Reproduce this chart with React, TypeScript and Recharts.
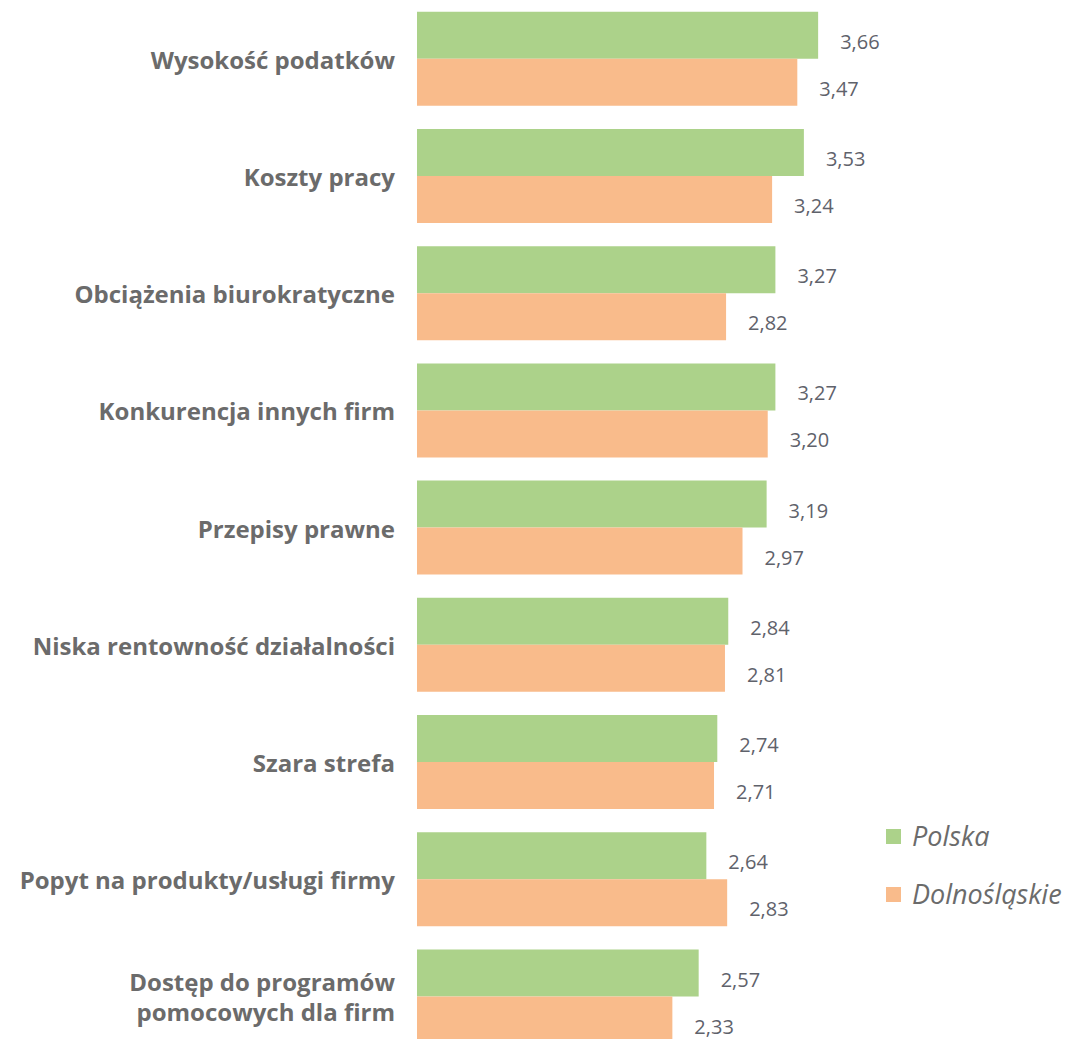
import React from 'react';
import { Bar, BarChart, LabelList, XAxis, YAxis } from 'recharts';

const categories = [
  'Wysokość podatków',
  'Koszty pracy',
  'Obciążenia biurokratyczne',
  'Konkurencja innych firm',
  'Przepisy prawne',
  'Niska rentowność działalności',
  'Szara strefa',
  'Popyt na produkty/usługi firmy',
  'Dostęp do programów\npomocowych dla firm',
];
const polska = [3.66, 3.53, 3.27, 3.27, 3.19, 2.84, 2.74, 2.64, 2.57];
const dolnoslaskie = [3.47, 3.24, 2.82, 3.2, 2.97, 2.81, 2.71, 2.83, 2.33];

const GREEN = '#acd28a';
const ORANGE = '#f9bb8b';
const TEXT = '#6b6b6b';
const FONT = '"Open Sans", sans-serif';

const data = categories.map((name, i) => ({
  name,
  polska: polska[i],
  dolnoslaskie: dolnoslaskie[i],
}));

const fmt = (v: number) => v.toFixed(2).replace('.', ',');

function CategoryTick({ x, y, payload }: any) {
  const lines = String(payload.value).split('\n');
  const lh = 30;
  const start = y - ((lines.length - 1) * lh) / 2;
  return (
    <text
      x={x}
      y={start}
      textAnchor="end"
      dominantBaseline="central"
      fill={TEXT}
      fontFamily={FONT}
      fontWeight={700}
      fontSize={24}
    >
      {lines.map((l: string, i: number) => (
        <tspan key={i} x={x} y={start + i * lh} dominantBaseline="central">
          {l}
        </tspan>
      ))}
    </text>
  );
}

function ValueLabel({ x, y, width, height, value }: any) {
  return (
    <text
      x={x + width + 22}
      y={y + height / 2 + 6}
      dominantBaseline="central"
      fill="#5f626b"
      fontFamily={FONT}
      fontSize={20}
    >
      {fmt(value)}
    </text>
  );
}

function Legend() {
  const items = [
    { label: 'Polska', color: GREEN, top: 826 },
    { label: 'Dolnośląskie', color: ORANGE, top: 884 },
  ];
  return (
    <>
      {items.map((it) => (
        <div
          key={it.label}
          style={{ position: 'absolute', left: 886, top: it.top, display: 'flex', alignItems: 'center' }}
        >
          <span style={{ width: 15, height: 15, background: it.color, display: 'inline-block' }} />
          <span
            style={{
              marginLeft: 11,
              fontFamily: FONT,
              fontStyle: 'italic',
              fontSize: 27,
              color: TEXT,
              lineHeight: '20px',
            }}
          >
            {it.label}
          </span>
        </div>
      ))}
    </>
  );
}

export default function App() {
  return (
    <div style={{ position: 'absolute', left: 0, top: 0, width: 1069, height: 1039, overflow: 'hidden', background: '#fff' }}>
      <BarChart
        width={1069}
        height={1055}
        data={data}
        layout="vertical"
        margin={{ top: 0, right: 104, bottom: 0, left: 0 }}
        barCategoryGap="10%"
        barGap={0}
      >
        <XAxis type="number" domain={[0, 5]} hide />
        <YAxis
          type="category"
          dataKey="name"
          width={417}
          axisLine={false}
          tickLine={false}
          tick={<CategoryTick />}
          tickMargin={16}
          interval={0}
        />
        <Bar dataKey="polska" fill={GREEN} isAnimationActive={false}>
          <LabelList dataKey="polska" content={<ValueLabel />} />
        </Bar>
        <Bar dataKey="dolnoslaskie" fill={ORANGE} isAnimationActive={false}>
          <LabelList dataKey="dolnoslaskie" content={<ValueLabel />} />
        </Bar>
      </BarChart>
      <Legend />
    </div>
  );
}
